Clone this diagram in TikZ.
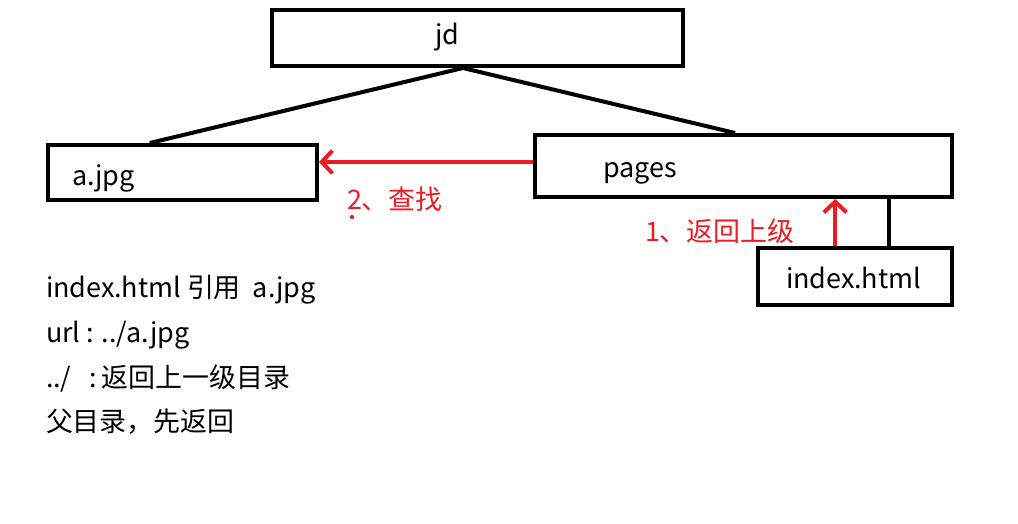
\documentclass[tikz,border=0pt]{standalone}
\usepackage{fontspec}
\setmainfont{Noto Sans CJK SC}
\usetikzlibrary{
    arrows.meta,
    positioning,
    calc
}
\definecolor{paintred}{RGB}{237,28,36}

\begin{document}
\begin{tikzpicture}[x=0.75pt,y=-0.75pt,line width=3pt,
    box/.style={draw,rectangle,inner sep=0pt},
    txt/.style={anchor=base west,inner sep=0pt,font=\fontsize{20.2}{24}\selectfont},
    redtxt/.style={txt,text=paintred},
    redarrow/.style={draw=paintred,-{Straight Barb[length=8pt,width=17pt]}}
]

\useasboundingbox (0,0) rectangle (1018,524);

% folders and file boxes
\node[box,minimum width=308.25pt,minimum height=42pt] (jd) at (477.5,38) {};
\node[box,minimum width=201.75pt,minimum height=41.25pt] (apic) at (182.5,172.5) {};
\node[box,minimum width=312.75pt,minimum height=46.5pt] (pages) at (743.5,166) {};
\node[box,minimum width=145.5pt,minimum height=42.75pt] (index) at (855,276.5) {};

% box texts
\node[txt] (jdlbl) at (433,45) {jd};
\node[txt] (apiclbl) at (70,186) {a.jpg};
\node[txt] (pageslbl) at (601,178) {pages};
\node[txt] (indexlbl) at (784,288) {index.html};

% tree lines
\coordinate (jdroot) at ($(jd.south west)!0.465!(jd.south east)$);
\draw (jdroot) -- ($(apic.north west)!0.38!(apic.north east)$);
\draw (jdroot) -- ($(pages.north west)!0.48!(pages.north east)$);
\coordinate (indextop) at ($(index.north west)!0.67!(index.north east)$);
\draw (indextop) -- (indextop |- pages.south);

% red steps
\coordinate (stepup) at ($(index.north west)!0.40!(index.north east)$);
\draw[redarrow] (stepup) -- (stepup |- pages.south);
\coordinate (findstart) at ($(pages.west)+(0,-4)$);
\draw[redarrow] (findstart) -- (findstart -| apic.east);

\node[redtxt] (uplbl) at (643,242) {1、返回上级};
\node[redtxt] (findlbl) at (345,210) {2、查找};
\fill[paintred] (352,217) circle (1.6pt);

% notes
\node[txt] (note1) at (44,297) {index.html 引用\ \ a.jpg};
\node[txt] (note2) at (44,342) {url : ../a.jpg};
\node[txt] (note3) at (44,387) {../\ \ \ :\,返回上一级目录};
\node[txt] (note4) at (44,431) {父目录，先返回};

\end{tikzpicture}
\end{document}
